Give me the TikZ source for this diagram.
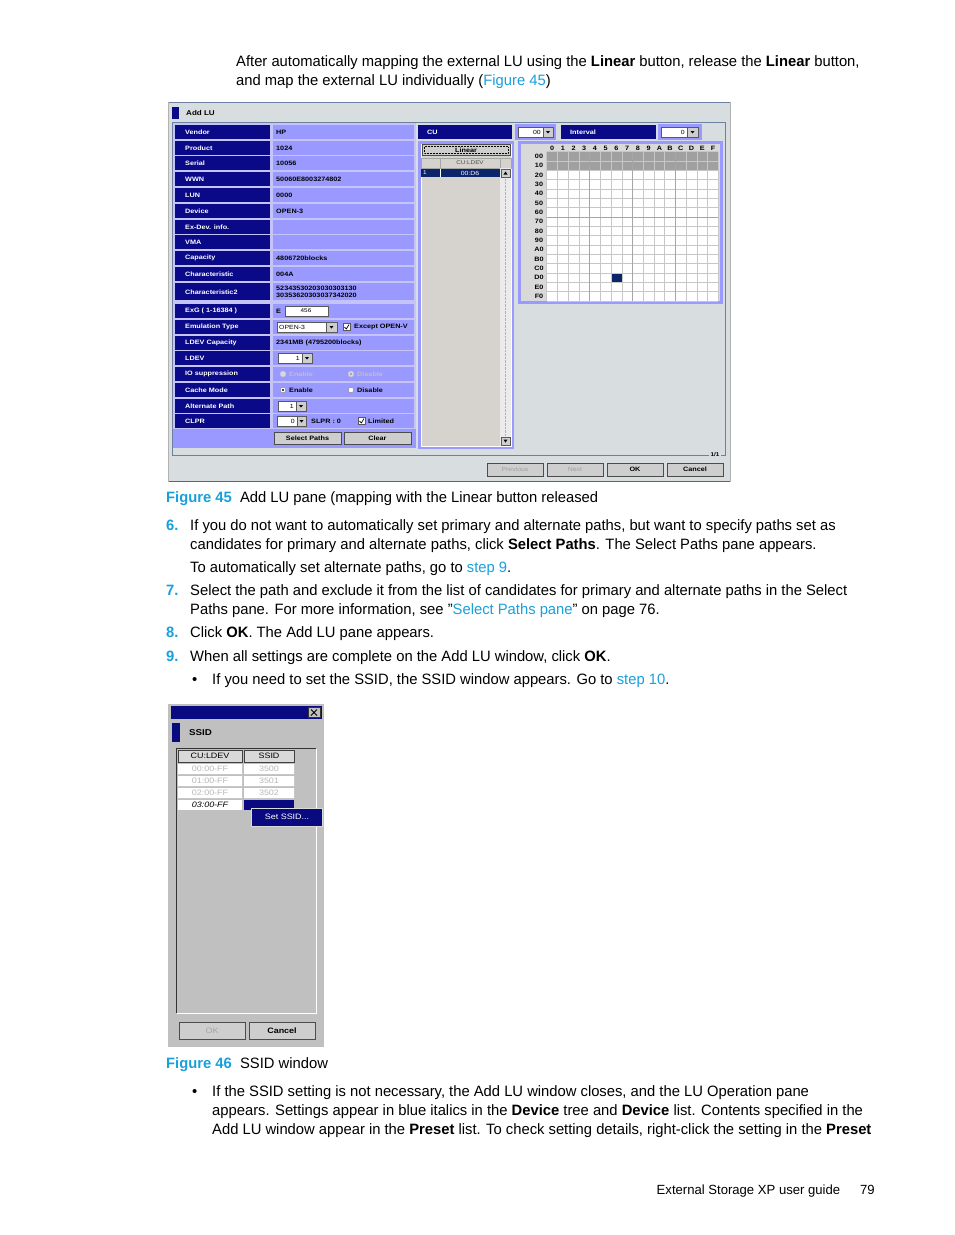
\documentclass[tikz,border=0pt]{standalone}
\usepackage{fontspec}
\setmainfont[FakeStretch=0.985]{Liberation Sans}
\newfontfamily\uifont[FakeStretch=1.15]{Liberation Sans}
\usetikzlibrary{positioning}

\definecolor{hplink}{RGB}{25,160,220}
\definecolor{winbg}{RGB}{216,221,224}
\definecolor{frameline}{RGB}{110,128,160}
\definecolor{lblnavy}{RGB}{10,10,136}
\definecolor{lav}{RGB}{153,153,255}
\definecolor{lavlight}{RGB}{196,196,248}
\definecolor{listbg}{RGB}{214,211,206}
\definecolor{cellgray}{RGB}{160,160,160}
\definecolor{selnavy}{RGB}{12,36,106}
\definecolor{ssidbg}{RGB}{192,192,192}
\definecolor{btnbg}{RGB}{206,206,206}
\definecolor{dimtxt}{RGB}{160,160,160}
\definecolor{ssidnavy}{RGB}{10,10,128}

\tikzset{
  txt/.style={anchor=base west,inner sep=0pt,font=\fontsize{15}{18}\selectfont},
  stepno/.style={txt,text=hplink,font=\fontsize{15}{18}\selectfont\bfseries},
  ui/.style={inner sep=0pt,font=\uifont\fontsize{6.3}{7}\selectfont\bfseries},
  uilab/.style={ui,text=white,anchor=west},
  uival/.style={ui,anchor=west},
  sui/.style={inner sep=0pt,font=\uifont\fontsize{7.8}{8}\selectfont},
  btn/.style={fill=btnbg,draw=gray!60!black,line width=.6pt},
  whitebox/.style={fill=white,draw=gray!70!black,line width=.5pt},
  arrbtn/.style={fill=btnbg,draw=gray!70!black,line width=.5pt},
  gridline/.style={draw=black!22,line width=.5pt},
  gridbold/.style={draw=black!35,line width=.8pt},
}

% dropdown arrow button: x-left, x-right, y-centre
\newcommand\dropbtn[3]{%
  \draw[arrbtn] (#1,#3-5) rectangle (#2,#3+5);
  \fill ({(#1+#2)/2-2},#3-1) -- ({(#1+#2)/2+2},#3-1) -- ({(#1+#2)/2},#3+1.5) -- cycle;}

\begin{document}
\begin{tikzpicture}[x=1pt,y=-1pt]
\useasboundingbox (0,0) rectangle (954,1235);
\fill[white] (0,0) rectangle (954,1235);

% intro text
\node[txt] (p1) at (236,66) {After automatically mapping the external LU using the \textbf{Linear} button, release the \textbf{Linear} button,};
\node[txt] (p2) at (236,85) {and map the external LU individually (\textcolor{hplink}{Figure 45})};

% ---------------- Add LU pane ----------------
\fill[winbg] (168,102) rectangle (731,482);
\draw[frameline,line width=1pt] (168,102.5) -- (731,102.5);
\draw[gray!80!black,line width=1pt] (168,481.5) -- (731,481.5);
\draw[gray!60,line width=.6pt] (168.3,102) -- (168.3,482) (730.7,102) -- (730.7,482);
\fill[lblnavy] (172,107) rectangle (179,119);
\node[ui,anchor=west,font=\uifont\fontsize{7}{8}\selectfont\bfseries] (title) at (186,113) {Add LU};
\draw[frameline,line width=.7pt] (709,455) -- (172.5,455) -- (172.5,122.5) -- (725,122.5) -- (725,455) -- (721,455);
\node[ui,font=\uifont\fontsize{5.5}{6}\selectfont\bfseries] (page) at (715,455) {1/1};

% table
\fill[lavlight] (173,123) rectangle (416,448);
\fill[lav] (173,429) rectangle (416,448);
\foreach \y/\l/\v [count=\i] in {132/Vendor/HP,148/Product/1024,163/Serial/10056,
    179/WWN/50060E8003274802,195/LUN/0000,211/Device/OPEN-3,227/Ex-Dev. info./{},
    242/VMA/{},258/Capacity/4806720blocks,274/Characteristic/004A,
    311/ExG ( 1-16384 )/E,327/Emulation Type/{},343/LDEV Capacity/2341MB (4795200blocks),
    358/LDEV/{},374/IO suppression/{},390/Cache Mode/{},406/Alternate Path/{},421/CLPR/{}}{
  \fill[lblnavy] (175,\y-7) rectangle (270,\y+7);
  \fill[lav] (273,\y-7) rectangle (414,\y+7);
  \node[uilab] (lab\i) at (185,\y) {\l};
  \node[uival] (val\i) at (276,\y) {\v};
}
\fill[lblnavy] (175,283) rectangle (270,300);
\fill[lav] (273,283) rectangle (414,300);
\node[uilab] (labch2) at (185,292) {Characteristic2};
\node[uival,align=left,font=\uifont\fontsize{6.3}{7}\selectfont\bfseries] (valch2) at (276,292) {52343530203030303130\\30353620303037342020};

% row widgets
\draw[whitebox] (285,306) rectangle (328,316);
\node[ui,font=\uifont\fontsize{5.5}{6}\selectfont] (exg) at (306,311) {456};
\draw[whitebox] (277,322) rectangle (326,332);
\node[ui,anchor=west,font=\uifont\fontsize{6}{7}\selectfont] (emu) at (279,327) {OPEN-3};
\dropbtn{326}{337}{327}
\draw[whitebox] (343,323.5) rectangle (350,330.5);
\draw[line width=.7pt] (344.5,327) -- (346.3,329) -- (349,324.5);
\node[uival] (emuchk) at (354,327) {Except OPEN-V};
\draw[whitebox] (278,353) rectangle (302,363);
\node[ui,anchor=east,font=\uifont\fontsize{6}{7}\selectfont] (ldev) at (300,358) {1};
\dropbtn{302}{312}{358}
\draw[white!80!black,fill=white!85!black] (283,374) circle (2.8pt);
\node[uival,text=white!75!black] (ioen) at (289,374) {Enable};
\draw[white!80!black,fill=white!85!black] (351,374) circle (2.8pt);
\fill[white!60!black] (351,374) circle (1.2pt);
\node[uival,text=white!75!black] (iodis) at (357,374) {Disable};
\draw[gray,fill=white] (283,390) circle (2.8pt);
\fill (283,390) circle (1.2pt);
\node[uival] (cen) at (289,390) {Enable};
\draw[gray,fill=white] (351,390) circle (2.8pt);
\node[uival] (cdis) at (357,390) {Disable};
\draw[whitebox] (278,401) rectangle (296,411);
\node[ui,anchor=east,font=\uifont\fontsize{6}{7}\selectfont] (alt) at (294,406) {1};
\dropbtn{296}{306}{406}
\draw[whitebox] (277,416) rectangle (297,426);
\node[ui,anchor=east,font=\uifont\fontsize{6}{7}\selectfont] (clpr) at (295,421) {0};
\dropbtn{297}{306}{421}
\node[uival] (slpr) at (311,421) {SLPR : 0};
\draw[whitebox] (358,417.5) rectangle (365,424.5);
\draw[line width=.7pt] (359.5,421) -- (361.3,423) -- (364,418.5);
\node[uival] (lim) at (368,421) {Limited};
\draw[btn] (274,432) rectangle (341,444);
\node[ui] (selp) at (307.5,438) {Select Paths};
\draw[btn] (344,432) rectangle (411,444);
\node[ui] (clear) at (377.5,438) {Clear};

% CU / interval header
\fill[lblnavy] (418,125) rectangle (512,139);
\node[uilab] (cu) at (427,132) {CU};
\fill[lav] (515,124) rectangle (556,140);
\draw[whitebox] (518,127) rectangle (543,137);
\node[ui,anchor=east,font=\uifont\fontsize{6}{7}\selectfont] (cuval) at (541,132) {00};
\dropbtn{543}{553}{132}
\fill[lblnavy] (561,125) rectangle (656,139);
\node[uilab] (intv) at (570,132) {Interval};
\fill[lav] (658,124) rectangle (702,140);
\draw[whitebox] (661,127) rectangle (687,137);
\node[ui,anchor=east,font=\uifont\fontsize{6}{7}\selectfont] (intval) at (685,132) {0};
\dropbtn{687}{698}{132}

% CU:LDEV list
\fill[lav] (418,141) rectangle (514,449);
\fill[listbg] (421,144) rectangle (511,446);
\draw[white,line width=.6pt] (421,144) rectangle (511,446);
\draw[btn] (422,144.5) rectangle (510,155);
\draw[densely dotted,line width=.5pt] (424,146.5) rectangle (508,153);
\node[ui] (linear) at (466,150) {Linear};
\draw[gray!70,fill=listbg,line width=.5pt] (421,158) rectangle (440,168) (440,158) rectangle (500,168) (500,158) rectangle (511,168);
\node[ui,font=\uifont\fontsize{5.5}{6}\selectfont,text=black!70] (cul) at (470,163) {CU:LDEV};
\fill[white!92!black] (500,168) rectangle (511,446);
\draw[gray!60,densely dotted,line width=.4pt] (505.5,179) -- (505.5,436);
\fill[selnavy] (421,169) rectangle (500,177);
\draw[white,line width=.4pt] (440,169) -- (440,177);
\node[ui,text=white,font=\uifont\fontsize{5.5}{6}\selectfont] (sel1) at (425,173) {1};
\node[ui,text=white,font=\uifont\fontsize{6}{6}\selectfont] (sel2) at (470,173) {00:D6};
\draw[arrbtn] (501,169) rectangle (510,177);
\fill (503.5,174.5) -- (507.5,174.5) -- (505.5,171.5) -- cycle;
\draw[arrbtn] (501,437) rectangle (510,445);
\fill (503.5,439.5) -- (507.5,439.5) -- (505.5,442.5) -- cycle;

% LDEV grid
\fill[lav] (518,141) rectangle (723,304);
\fill[white!85!black] (521,144) rectangle (720,301);
\fill[cellgray] (546.7,151.7) rectangle (718.3,170.4);
\fill[white] (546.7,170.4) rectangle (718.3,301);
\fill[selnavy] ({546.7+6*10.73},{151.7+13*9.33}) rectangle ++(10.73,9.33);
\foreach \k in {0,...,16}
  \draw[gridline] ({546.7+\k*10.73},151.7) -- ++(0,149.3);
\foreach \k in {0,...,16}
  \draw[gridline] (546.7,{151.7+\k*9.33}) -- ++(171.6,0);
\foreach \k in {4,8,12}
  \draw[gridbold] ({546.7+\k*10.73},151.7) -- ++(0,149.3);
\draw[gridbold] (546.7,{151.7+7*9.33}) -- ++(171.6,0);
\foreach \c [count=\k from 0] in {0,1,2,3,4,5,6,7,8,9,A,B,C,D,E,F}
  \node[ui] (col\k) at ({546.7+(\k+.5)*10.73},148) {\c};
\foreach \r [count=\k from 0] in {00,10,20,30,40,50,60,70,80,90,A0,B0,C0,D0,E0,F0}
  \node[ui] (row\k) at (539,{151.7+(\k+.5)*9.33}) {\r};

% bottom buttons
\draw[btn] (487,463) rectangle (543,476);
\node[ui,text=dimtxt,font=\uifont\fontsize{6}{7}\selectfont] (prev) at (515,469.5) {Previous};
\draw[btn] (547,463) rectangle (603,476);
\node[ui,text=dimtxt,font=\uifont\fontsize{6}{7}\selectfont] (next) at (575,469.5) {Next};
\draw[btn] (607,463) rectangle (663,476);
\node[ui] (ok) at (635,469.5) {OK};
\draw[btn] (667,463) rectangle (723,476);
\node[ui] (cancel) at (695,469.5) {Cancel};

\node[txt] (cap45) at (166,502) {\textcolor{hplink}{\textbf{Figure 45}}\ \ Add LU pane (mapping with the Linear button released};

% steps
\node[stepno] (n6) at (166,530) {6.};
\node[txt] (s6a) at (190,530) {If you do not want to automatically set primary and alternate paths, but want to specify paths set as};
\node[txt] (s6b) at (190,549) {candidates for primary and alternate paths, click \textbf{Select Paths}. The Select Paths pane appears.};
\node[txt] (s6c) at (190,572) {To automatically set alternate paths, go to \textcolor{hplink}{step 9}.};
\node[stepno] (n7) at (166,595) {7.};
\node[txt] (s7a) at (190,595) {Select the path and exclude it from the list of candidates for primary and alternate paths in the Select};
\node[txt] (s7b) at (190,614) {Paths pane. For more information, see ''\textcolor{hplink}{Select Paths pane}'' on page 76.};
\node[stepno] (n8) at (166,637) {8.};
\node[txt] (s8) at (190,637) {Click \textbf{OK}. The Add LU pane appears.};
\node[stepno] (n9) at (166,661) {9.};
\node[txt] (s9) at (190,661) {When all settings are complete on the Add LU window, click \textbf{OK}.};
\node[txt] (b1) at (192,684) {\textbullet};
\node[txt] (s9b) at (212,684) {If you need to set the SSID, the SSID window appears. Go to \textcolor{hplink}{step 10}.};

% ---------------- SSID window ----------------
\fill[ssidbg] (168,704) rectangle (324,1047);
\draw[gray!50,line width=.8pt] (168.4,704.4) rectangle (323.6,1046.6);
\fill[ssidnavy] (171,706) rectangle (322,719);
\draw[fill=ssidbg,draw=gray!40!black,line width=.5pt] (308,707.5) rectangle (320,717.5);
\draw[line width=1pt] (311,709.5) -- (317,715.5) (317,709.5) -- (311,715.5);
\fill[ssidnavy] (172,723) rectangle (180,742);
\node[sui,anchor=west,font=\uifont\fontsize{8.5}{9}\selectfont\bfseries] (ssidt) at (189,732.5) {SSID};
\draw[gray!40!black,line width=.7pt] (176.5,1013) -- (176.5,748.5) -- (316,748.5);
\draw[white,line width=.7pt] (316,748.5) -- (316,1013) -- (176.5,1013);
\draw[gray!50!black,line width=.6pt,fill=white!85!black] (178,750) rectangle (242,762) (244,750) rectangle (294,762);
\node[sui] (hcu) at (210,756) {CU:LDEV};
\node[sui] (hss) at (269,756) {SSID};
\foreach \y/\a/\b [count=\i] in {769/00:00-FF/3500,781/01:00-FF/3501,793/02:00-FF/3502}{
  \fill[white] (178,\y-5) rectangle (242,\y+5) (244,\y-5) rectangle (294,\y+5);
  \node[sui,text=white!72!black] (cu\i) at (210,\y) {\a};
  \node[sui,text=white!72!black] (ss\i) at (269,\y) {\b};
}
\fill[white] (178,800) rectangle (242,810);
\fill[ssidnavy] (244,800) rectangle (294,810);
\node[sui,font=\uifont\fontsize{7.8}{8}\selectfont\itshape] (cu4) at (210,805) {03:00-FF};
\fill[ssidnavy] (251,808) rectangle (322,826);
\draw[white!85!black,line width=.5pt] (251,808) rectangle (322,826);
\node[sui,text=white] (setss) at (287,817) {Set SSID...};
\draw[btn] (179,1022) rectangle (245,1039);
\node[sui,text=white!65!black] (sok) at (212,1030.5) {OK};
\draw[btn] (249,1022) rectangle (315,1039);
\node[sui,font=\uifont\fontsize{7.8}{8}\selectfont\bfseries] (scan) at (282,1030.5) {Cancel};

\node[txt] (cap46) at (166,1068) {\textcolor{hplink}{\textbf{Figure 46}}\ \ SSID window};

\node[txt] (b2) at (192,1096) {\textbullet};
\node[txt] (t1) at (212,1096) {If the SSID setting is not necessary, the Add LU window closes, and the LU Operation pane};
\node[txt] (t2) at (212,1115) {appears. Settings appear in blue italics in the \textbf{Device} tree and \textbf{Device} list. Contents specified in the};
\node[txt] (t3) at (212,1134) {Add LU window appear in the \textbf{Preset} list. To check setting details, right-click the setting in the \textbf{Preset}};

\node[txt,anchor=base east,font=\fontsize{13.3}{16}\selectfont] (foot) at (875,1194) {External Storage XP user guide\hspace{20pt}79};
\end{tikzpicture}
\end{document}
